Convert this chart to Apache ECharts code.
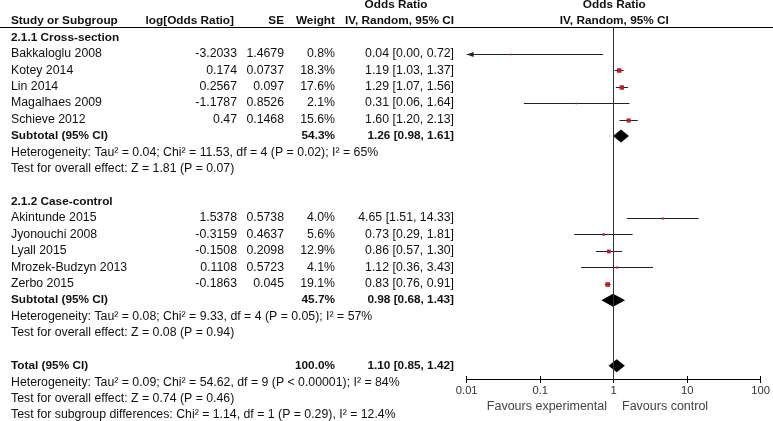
<!DOCTYPE html>
<html><head><meta charset="utf-8">
<script src="https://cdn.jsdelivr.net/npm/echarts@6/dist/echarts.min.js"></script>
<style>html,body{margin:0;padding:0;background:#fff}#c{width:773px;height:421px}</style>
</head><body><div id="c"></div>
<script>
// ---------------- data ----------------
const groupNames = ['2.1.1 Cross-section', '2.1.2 Case-control'];
const studyNames = ['Bakkaloglu 2008', 'Kotey 2014', 'Lin 2014', 'Magalhaes 2009', 'Schieve 2012',
  'Akintunde 2015', 'Jyonouchi 2008', 'Lyall 2015', 'Mrozek-Budzyn 2013', 'Zerbo 2015'];
const studyGroup = [0, 0, 0, 0, 0, 1, 1, 1, 1, 1];
const logOR = [-3.2033, 0.174, 0.2567, -1.1787, 0.47, 1.5378, -0.3159, -0.1508, 0.1108, -0.1863];
const se = [1.4679, 0.0737, 0.097, 0.8526, 0.1468, 0.5738, 0.4637, 0.2098, 0.5723, 0.045];
const weight = [0.8, 18.3, 17.6, 2.1, 15.6, 4.0, 5.6, 12.9, 4.1, 19.1];
const oddsRatio = [0.04, 1.19, 1.29, 0.31, 1.60, 4.65, 0.73, 0.86, 1.12, 0.83];
const ciLow = [0.00, 1.03, 1.07, 0.06, 1.20, 1.51, 0.29, 0.57, 0.36, 0.76];
const ciHigh = [0.72, 1.37, 1.56, 1.64, 2.13, 14.33, 1.81, 1.30, 3.43, 0.91];
const subWeight = [54.3, 45.7];
const subOR = [1.26, 0.98];
const subLow = [0.98, 0.68];
const subHigh = [1.61, 1.43];
const subHet = ['Heterogeneity: Tau² = 0.04; Chi² = 11.53, df = 4 (P = 0.02); I² = 65%',
  'Heterogeneity: Tau² = 0.08; Chi² = 9.33, df = 4 (P = 0.05); I² = 57%'];
const subEffect = ['Test for overall effect: Z = 1.81 (P = 0.07)', 'Test for overall effect: Z = 0.08 (P = 0.94)'];
const totalWeight = 100.0, totalOR = 1.10, totalLow = 0.85, totalHigh = 1.42;
const totalHet = 'Heterogeneity: Tau² = 0.09; Chi² = 54.62, df = 9 (P < 0.00001); I² = 84%';
const totalEffect = 'Test for overall effect: Z = 0.74 (P = 0.46)';
const subgroupTest = 'Test for subgroup differences: Chi² = 1.14, df = 1 (P = 0.29), I² = 12.4%';
const tableHeaders = ['Study or Subgroup', 'log[Odds Ratio]', 'SE', 'Weight', 'IV, Random, 95% CI'];
const plotHeaders = ['Odds Ratio', 'IV, Random, 95% CI'];
const tickValues = [0.01, 0.1, 1, 10, 100];
const favours = ['Favours experimental', 'Favours control'];

// ---------------- layout ----------------
const W = 773, H = 421;
const ROW0 = 21, ROWH = 16.42;
const GRID_TOP = 27.5, AXIS_Y = 379.5, PLOT_L = 466.7, PLOT_R = 762;
const COL = { name: 11, logOR: 237, se: 284, weight: 335, ci: 454, orHead: 396, plotMid: 614.3 };
const FONT = '"Liberation Sans", Arial, sans-serif';
const FS = 12.3, FSB = 11.8;

const cells = [];
const add = (x, row, text, align, bold) => cells.push({ x, row, text, align, bold });
add(COL.orHead, -1, 'Odds Ratio', 'center', true);
add(COL.plotMid, -1, plotHeaders[0], 'center', true);
add(COL.plotMid, 0, plotHeaders[1], 'center', true);
add(COL.name, 0, tableHeaders[0], 'left', true);
add(COL.logOR - 3, 0, tableHeaders[1], 'right', true);
add(COL.se, 0, tableHeaders[2], 'right', true);
add(COL.weight, 0, tableHeaders[3], 'right', true);
add(COL.ci, 0, tableHeaders[4], 'right', true);

const fmtCI = (o, l, h) => o.toFixed(2) + ' [' + l.toFixed(2) + ', ' + h.toFixed(2) + ']';
const studyData = [], diamondData = [];
let row = 1;
groupNames.forEach((g, gi) => {
  add(COL.name, row, g, 'left', true); row++;
  studyNames.forEach((n, i) => {
    if (studyGroup[i] !== gi) return;
    add(COL.name, row, n, 'left', false);
    add(COL.logOR, row, String(logOR[i]), 'right', false);
    add(COL.se, row, String(se[i]), 'right', false);
    add(COL.weight, row, weight[i].toFixed(1) + '%', 'right', false);
    add(COL.ci, row, fmtCI(oddsRatio[i], ciLow[i], ciHigh[i]), 'right', false);
    studyData.push([oddsRatio[i], ciLow[i], ciHigh[i], row, weight[i]]);
    row++;
  });
  add(COL.name, row, 'Subtotal (95% CI)', 'left', true);
  add(COL.weight, row, subWeight[gi].toFixed(1) + '%', 'right', true);
  add(COL.ci, row, fmtCI(subOR[gi], subLow[gi], subHigh[gi]), 'right', true);
  diamondData.push([subOR[gi], subLow[gi], subHigh[gi], row]);
  row++;
  add(COL.name, row, subHet[gi], 'left', false); row++;
  add(COL.name, row, subEffect[gi], 'left', false); row++;
  row++;
});
add(COL.name, row, 'Total (95% CI)', 'left', true);
add(COL.weight, row, totalWeight.toFixed(1) + '%', 'right', true);
add(COL.ci, row, fmtCI(totalOR, totalLow, totalHigh), 'right', true);
diamondData.push([totalOR, totalLow, totalHigh, row]);
row++;
add(COL.name, row, totalHet, 'left', false); row++;
add(COL.name, row, totalEffect, 'left', false); row++;
add(COL.name, row, subgroupTest, 'left', false); row++;

const XMIN = tickValues[0], XMAX = tickValues[tickValues.length - 1];
const pxToRow = p => (p - ROW0) / ROWH;

const chart = echarts.init(document.getElementById('c'), null, { renderer: 'canvas' });
chart.setOption({
  animation: false,
  backgroundColor: '#fff',
  grid: [
    { left: 0, right: 0, top: 0, bottom: 0 },
    { left: PLOT_L, right: W - PLOT_R, top: GRID_TOP, bottom: H - AXIS_Y }
  ],
  xAxis: [
    { gridIndex: 0, type: 'value', min: 0, max: W, show: false },
    { gridIndex: 1, type: 'log', logBase: 10, min: XMIN, max: XMAX, position: 'bottom',
      axisLine: { lineStyle: { color: '#000', width: 1 } },
      axisTick: { show: true, length: 3.5, lineStyle: { color: '#000' } },
      axisLabel: { color: '#333', fontSize: 11.2, fontFamily: FONT, margin: 6,
        formatter: v => String(+(+v).toPrecision(3)) },
      splitLine: { show: false }, minorTick: { show: false } },
    { gridIndex: 1, type: 'log', logBase: 10, min: XMIN, max: XMAX, position: 'bottom', offset: 0,
      axisLine: { show: false },
      axisTick: { show: true, inside: true, length: 3.5, lineStyle: { color: '#000' } },
      axisLabel: { show: false }, splitLine: { show: false } }
  ],
  yAxis: [
    { gridIndex: 0, type: 'value', inverse: true, min: pxToRow(0), max: pxToRow(H), show: false },
    { gridIndex: 1, type: 'value', inverse: true, min: pxToRow(GRID_TOP), max: pxToRow(AXIS_Y), show: false }
  ],
  graphic: [
    { type: 'line', shape: { x1: 0, y1: 27.5, x2: W, y2: 27.5 }, style: { stroke: '#000', lineWidth: 1 }, z: 10 },
    { type: 'text', x: 607, y: 407, style: { text: favours[0], fill: '#444', font: '12.5px ' + FONT, align: 'right', verticalAlign: 'middle' } },
    { type: 'text', x: 622, y: 407, style: { text: favours[1], fill: '#444', font: '12.5px ' + FONT, align: 'left', verticalAlign: 'middle' } }
  ],
  series: [
    {
      type: 'custom', xAxisIndex: 0, yAxisIndex: 0, clip: false, silent: true,
      data: cells.map(c => [c.x, c.row]),
      renderItem: (params, api) => {
        const c = cells[params.dataIndex];
        const p = api.coord([c.x, c.row]);
        return { type: 'text', x: p[0], y: p[1],
          style: { text: c.text, fill: '#111', font: (c.bold ? 'bold ' + FSB : FS) + 'px ' + FONT,
            align: c.align, verticalAlign: 'middle' } };
      }
    },
    {
      type: 'custom', xAxisIndex: 1, yAxisIndex: 1, clip: false, silent: true,
      encode: { x: 0, y: 3 },
      data: studyData,
      markLine: { silent: true, symbol: 'none', label: { show: false },
        lineStyle: { color: '#333', width: 1, type: 'solid' }, data: [{ xAxis: 1 }] },
      renderItem: (params, api) => {
        const o = api.value(0), lo = api.value(1), hi = api.value(2), r = api.value(3), w = api.value(4);
        const y = Math.round(api.coord([1, r])[1]) + 0.5;
        const xl = api.coord([Math.max(lo, XMIN), r])[0];
        const xh = api.coord([Math.min(hi, XMAX), r])[0];
        const xe = api.coord([o, r])[0];
        const s = Math.max(1.5, Math.sqrt(w) * 1.05);
        const children = [
          { type: 'line', shape: { x1: xl, y1: y, x2: xh, y2: y }, style: { stroke: '#222', lineWidth: 1 } },
          { type: 'rect', shape: { x: xe - s / 2, y: y - s / 2, width: s, height: s }, style: { fill: '#b5202a' } }
        ];
        if (lo < XMIN) children.push({ type: 'polygon', shape: { points: [[xl, y], [xl + 7, y - 2.5], [xl + 7, y + 2.5]] }, style: { fill: '#222' } });
        if (hi > XMAX) children.push({ type: 'polygon', shape: { points: [[xh, y], [xh - 7, y - 2.5], [xh - 7, y + 2.5]] }, style: { fill: '#222' } });
        return { type: 'group', children };
      }
    },
    {
      type: 'custom', xAxisIndex: 1, yAxisIndex: 1, clip: false, silent: true,
      encode: { x: 0, y: 3 },
      data: diamondData,
      renderItem: (params, api) => {
        const r = api.value(3);
        const y = api.coord([1, r])[1];
        const xl = api.coord([api.value(1), r])[0];
        const xh = api.coord([api.value(2), r])[0];
        const xe = api.coord([api.value(0), r])[0];
        return { type: 'polygon', shape: { points: [[xl, y], [xe, y - 6.5], [xh, y], [xe, y + 6.5]] },
          style: { fill: '#000' } };
      }
    }
  ]
});
</script></body></html>
